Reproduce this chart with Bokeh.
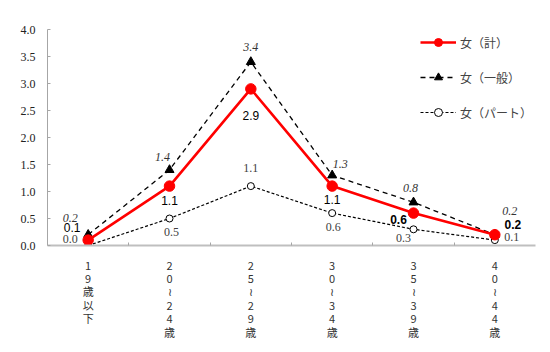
from bokeh.plotting import figure
from bokeh.models import (ColumnDataSource, FixedTicker, Legend, LegendItem, Label)
from bokeh.core.properties import value
from bokeh.embed import file_html
from bokeh.resources import INLINE

categories = ["1\n9\n歳\n以\n下", "2\n0\n≀\n2\n4\n歳", "2\n5\n≀\n2\n9\n歳",
              "3\n0\n≀\n3\n4\n歳", "3\n5\n≀\n3\n9\n歳", "4\n0\n≀\n4\n4\n歳"]
total = [0.1, 1.1, 2.9, 1.1, 0.6, 0.2]
general = [0.2, 1.4, 3.4, 1.3, 0.8, 0.2]
part = [0.0, 0.5, 1.1, 0.6, 0.3, 0.1]
yticks = [0.0, 0.5, 1.0, 1.5, 2.0, 2.5, 3.0, 3.5, 4.0]

xs = list(range(len(categories)))

p = figure(width=550, height=352, x_range=(-0.5, 5.5), y_range=(0, 4.0),
           output_backend="svg", toolbar_location=None,
           min_border_left=47, min_border_right=15, min_border_top=29, min_border_bottom=107)
p.outline_line_color = None
p.xgrid.visible = False
p.ygrid.visible = False
p.background_fill_color = "white"

# axes
p.yaxis.ticker = FixedTicker(ticks=yticks)
p.yaxis.major_label_overrides = {t: f"{t:.1f}" for t in yticks}
p.yaxis.axis_line_color = "#a6a6a6"
p.yaxis.major_tick_line_color = "#a6a6a6"
p.yaxis.major_tick_in = 3
p.yaxis.major_tick_out = 0
p.yaxis.minor_tick_line_color = None
p.yaxis.major_label_text_font = "Liberation Serif"
p.yaxis.major_label_text_font_size = "12px"
p.yaxis.major_label_text_color = "#222222"
p.yaxis.major_label_standoff = 12

p.xaxis.ticker = FixedTicker(ticks=xs, minor_ticks=[i + 0.5 for i in xs[:-1]])
p.xaxis.major_label_overrides = {i: c for i, c in zip(xs, categories)}
p.xaxis.axis_line_color = "#bfbfbf"
p.xaxis.axis_line_width = 2
p.xaxis.major_tick_line_color = None
p.xaxis.minor_tick_line_color = "#a6a6a6"
p.xaxis.minor_tick_in = 3
p.xaxis.minor_tick_out = 0
p.xaxis.major_label_text_font = "Noto Sans CJK JP"
p.xaxis.major_label_text_font_size = "11px"
p.xaxis.major_label_text_color = "#333333"
p.xaxis.major_label_text_line_height = 0.84
p.xaxis.major_label_standoff = 5

# lines
r_part_l = p.line(xs, part, line_color="black", line_width=1.2, line_dash="3 2")
r_part_m = p.scatter(xs, part, marker="circle", size=7, fill_color="white",
                     line_color="black", line_width=1)
r_gen_l = p.line(xs, general, line_color="black", line_width=1.3, line_dash="5 4")
r_gen_m = p.scatter(xs, general, marker="triangle", size=9, fill_color="black",
                    line_color="black")
r_tot_l = p.line(xs, total, line_color="#ff0000", line_width=2.6)
r_tot_m = p.scatter(xs, total, marker="circle", size=10.5, fill_color="#ff0000",
                    line_color="#ff0000")

# data labels (offsets in screen pixels, positive = down)
gen_src = ColumnDataSource(dict(x=xs, y=general, t=[f"{v:.1f}" for v in general],
                                xo=[-18, -7, 0, 8, -3, 15], yo=[-17, -13, -15, -11, -14, -24]))
p.text("x", "y", text="t", source=gen_src, x_offset="xo", y_offset="yo",
       text_align="center", text_baseline="middle", text_font=value("Liberation Serif"),
       text_font_style="italic", text_font_size="12px", text_color="#333333")

tot_src = ColumnDataSource(dict(x=xs, y=total, t=[f"{v:.1f}" for v in total],
                                xo=[-16, 0, 0, 0, -15, 18], yo=[-13, 14, 27, 13, 6, -10],
                                fs=["normal", "normal", "normal", "normal", "bold", "bold"]))
p.text("x", "y", text="t", source=tot_src, x_offset="xo", y_offset="yo",
       text_align="center", text_baseline="middle", text_font=value("Liberation Sans"),
       text_font_style="fs", text_font_size="12px", text_color="black")

part_src = ColumnDataSource(dict(x=xs, y=part, t=[f"{v:.1f}" for v in part],
                                 xo=[-18, 2, 0, 1, -10, 17], yo=[-7, 13, -18, 14, 9, -3]))
p.text("x", "y", text="t", source=part_src, x_offset="xo", y_offset="yo",
       text_align="center", text_baseline="middle", text_font=value("Liberation Serif"),
       text_font_size="12px", text_color="#404040")

p.add_layout(Label(x=47, y=352 - 16, x_units="screen", y_units="screen", text="(%)",
                   text_font="Noto Sans CJK JP", text_font_size="10px",
                   text_align="center", text_baseline="middle", text_color="#333333"))

legend = Legend(items=[
    LegendItem(label="女（計）", renderers=[r_tot_l, r_tot_m]),
    LegendItem(label="女（一般）", renderers=[r_gen_l, r_gen_m]),
    LegendItem(label="女（パート）", renderers=[r_part_l, r_part_m]),
], location="top_right", border_line_color=None, background_fill_alpha=0,
    label_text_font="Noto Sans CJK JP", label_text_font_size="12px",
    glyph_width=36, glyph_height=20, label_height=20, spacing=15, padding=0,
    margin=3, label_standoff=4)
p.add_layout(legend)

open("out.html", "w").write(file_html(p, INLINE))
